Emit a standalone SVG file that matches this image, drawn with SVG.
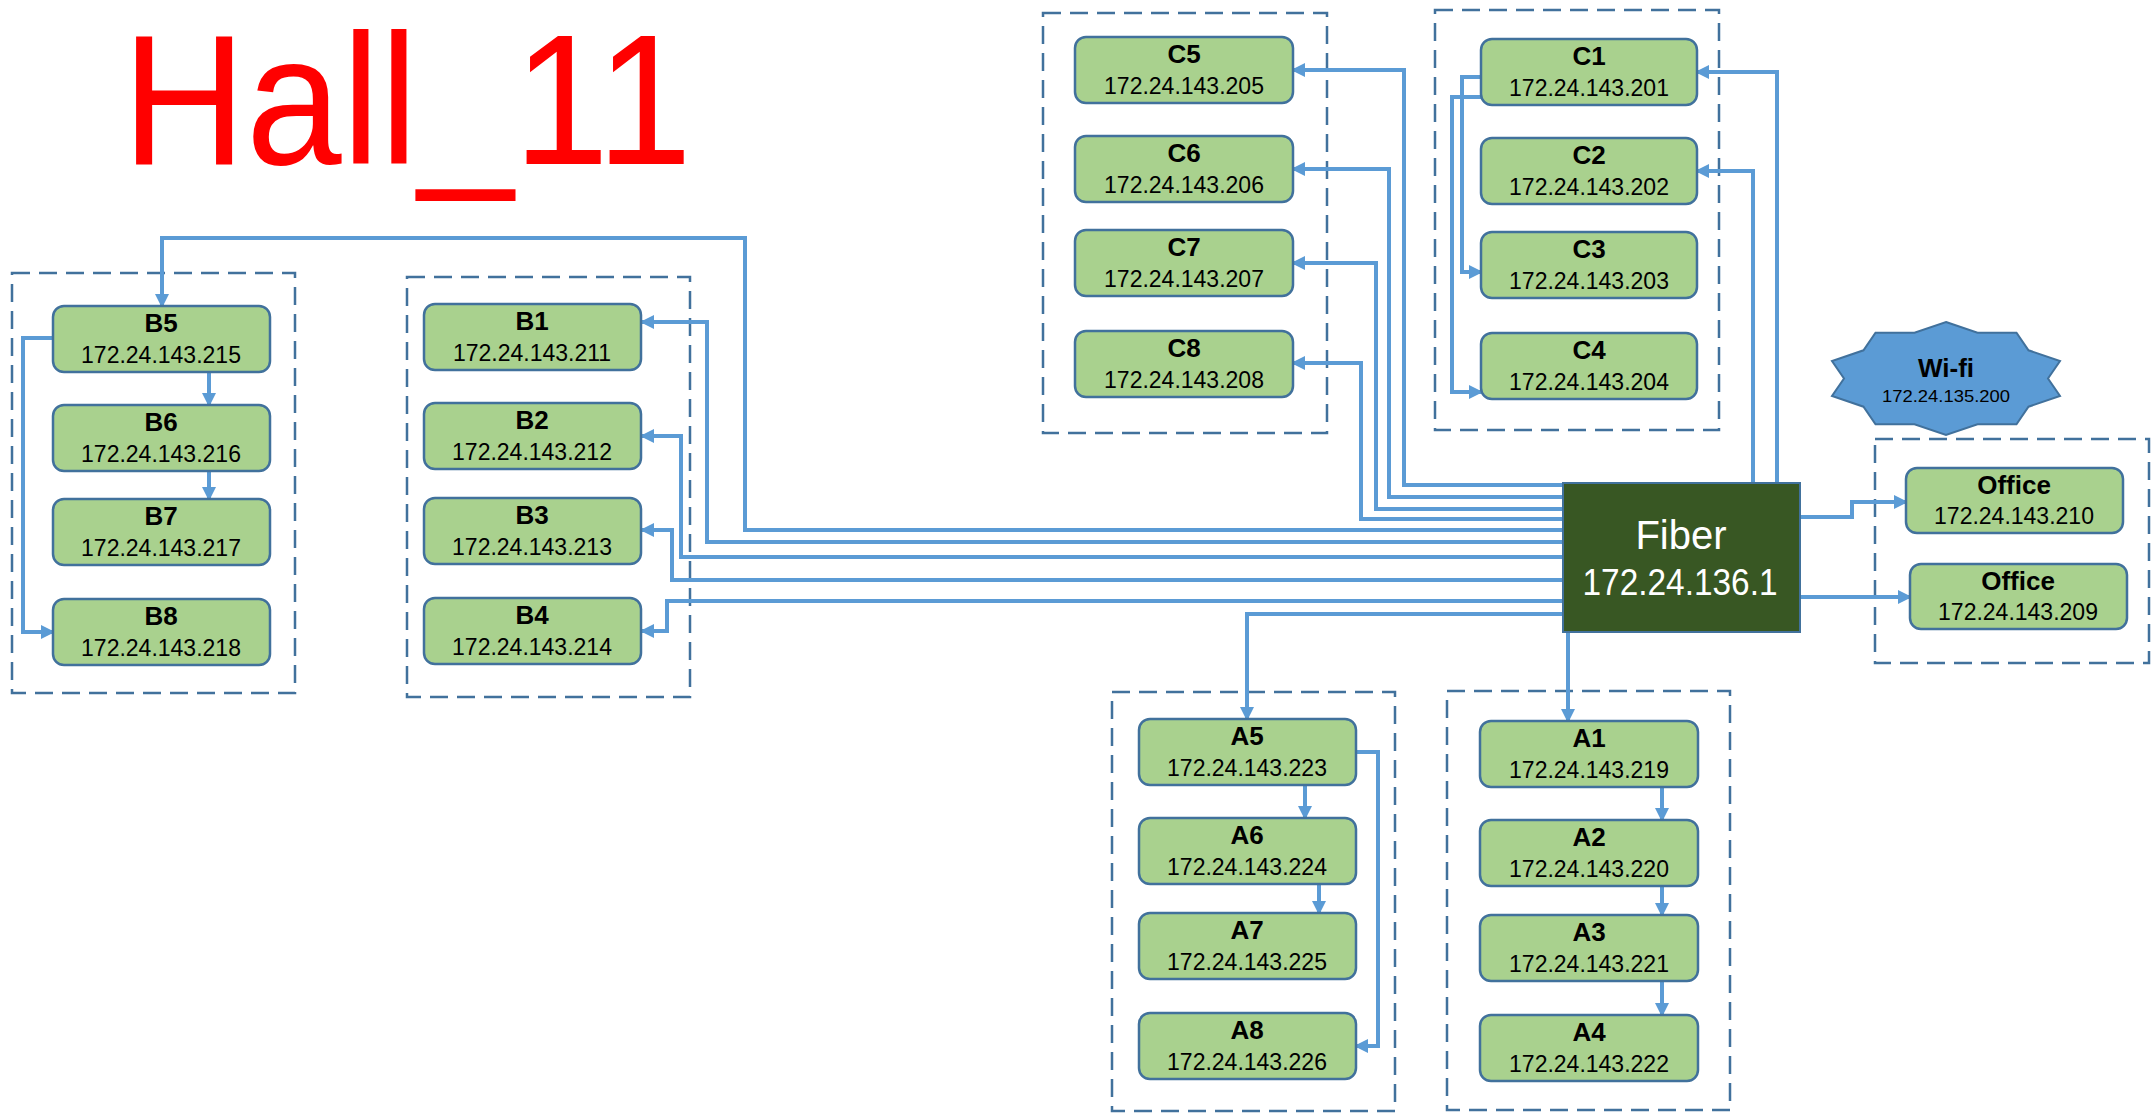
<svg xmlns="http://www.w3.org/2000/svg" width="2152" height="1113" viewBox="0 0 2152 1113">
<defs>
<style>
.node{fill:#A9D18E;stroke:#41719C;stroke-width:2.5}
.grp{fill:none;stroke:#41719C;stroke-width:2.5;stroke-dasharray:18 9}
.conn{fill:none;stroke:#5B9BD5;stroke-width:4;marker-end:url(#arr)}
.lbl{font-family:'Liberation Sans',Arial,sans-serif;font-weight:bold;font-size:26px;text-anchor:middle;fill:#000}
.ip{font-family:'Liberation Sans',Arial,sans-serif;font-size:23px;text-anchor:middle;fill:#000}
</style>
<marker id="arr" markerUnits="userSpaceOnUse" markerWidth="14" markerHeight="14" refX="12" refY="7" orient="auto"><path d="M0,0 L14,7 L0,14 z" fill="#5B9BD5"/></marker>
</defs>
<rect width="2152" height="1113" fill="#fff"/>
<text x="122" y="164" font-family="'Liberation Sans',Arial,sans-serif" font-size="186" fill="#FF0000" textLength="570" lengthAdjust="spacingAndGlyphs">Hall_11</text>

<g id="groups">
<rect class="grp" x="12" y="273" width="283" height="420"/>
<rect class="grp" x="407" y="277" width="283" height="420"/>
<rect class="grp" x="1043" y="13" width="284" height="420"/>
<rect class="grp" x="1435" y="10" width="284" height="420"/>
<rect class="grp" x="1112" y="692" width="283" height="419"/>
<rect class="grp" x="1447" y="691" width="283" height="419"/>
<rect class="grp" x="1875" y="439" width="274" height="224"/>
</g>

<g id="connectors">
<path class="conn" d="M1563,530 H745 V238 H162 V306"/>
<path class="conn" d="M1563,542 H707 V322 H642"/>
<path class="conn" d="M1563,557 H681 V436 H642"/>
<path class="conn" d="M1563,580 H672 V530 H642"/>
<path class="conn" d="M1563,601 H667 V631 H642"/>
<path class="conn" d="M1563,614 H1247 V719"/>
<path class="conn" d="M1568,632 V721"/>
<path class="conn" d="M1563,485 H1404 V70 H1293"/>
<path class="conn" d="M1563,497 H1389 V169 H1293"/>
<path class="conn" d="M1563,509 H1376 V263 H1293"/>
<path class="conn" d="M1563,519 H1361 V363 H1293"/>
<path class="conn" d="M1777,483 V72 H1697"/>
<path class="conn" d="M1753,483 V171 H1697"/>
<path class="conn" d="M1800,517 H1852 V502 H1906"/>
<path class="conn" d="M1800,597 H1910"/>
<path class="conn" d="M209,372 V405"/>
<path class="conn" d="M209,471 V499"/>
<path class="conn" d="M53,338 H23 V632 H53"/>
<path class="conn" d="M1481,77 H1462 V272 H1481"/>
<path class="conn" d="M1481,97 H1452 V392 H1481"/>
<path class="conn" d="M1305,785 V818"/>
<path class="conn" d="M1319,884 V913"/>
<path class="conn" d="M1356,752 H1378 V1046 H1356"/>
<path class="conn" d="M1662,787 V820"/>
<path class="conn" d="M1662,886 V915"/>
<path class="conn" d="M1662,981 V1015"/>
</g>

<g id="fiber">
<rect x="1563" y="483" width="237" height="149" fill="#385723" stroke="#41719C" stroke-width="2"/>
<text x="1681" y="549" font-family="'Liberation Sans',Arial,sans-serif" font-size="40" fill="#fff" text-anchor="middle">Fiber</text>
<text x="1680" y="595" font-family="'Liberation Sans',Arial,sans-serif" font-size="37" fill="#fff" text-anchor="middle" textLength="195" lengthAdjust="spacingAndGlyphs">172.24.136.1</text>
</g>

<g id="wifi">
<polygon points="1946,322 1977.5,332.8 2016.5,332.8 2028.5,350.3 2060,361 2048,378.5 2060,396 2028.5,406.7 2016.5,424.2 1977.5,424.2 1946,435 1914.5,424.2 1875.5,424.2 1863.5,406.7 1832,396 1844,378.5 1832,361 1863.5,350.3 1875.5,332.8 1914.5,332.8" fill="#5B9BD5" stroke="#41719C" stroke-width="2"/>
<text class="lbl" x="1946" y="377">Wi-fi</text>
<text x="1946" y="402" font-family="'Liberation Sans',Arial,sans-serif" font-size="17" text-anchor="middle" textLength="128" lengthAdjust="spacingAndGlyphs">172.24.135.200</text>
</g>

<g id="B5"><rect class="node" x="53" y="306" width="217" height="66" rx="11"/><text class="lbl" x="161" y="332">B5</text><text class="ip" x="161" y="363">172.24.143.215</text></g>
<g id="B6"><rect class="node" x="53" y="405" width="217" height="66" rx="11"/><text class="lbl" x="161" y="431">B6</text><text class="ip" x="161" y="462">172.24.143.216</text></g>
<g id="B7"><rect class="node" x="53" y="499" width="217" height="66" rx="11"/><text class="lbl" x="161" y="525">B7</text><text class="ip" x="161" y="556">172.24.143.217</text></g>
<g id="B8"><rect class="node" x="53" y="599" width="217" height="66" rx="11"/><text class="lbl" x="161" y="625">B8</text><text class="ip" x="161" y="656">172.24.143.218</text></g>

<g id="B1"><rect class="node" x="424" y="304" width="217" height="66" rx="11"/><text class="lbl" x="532" y="330">B1</text><text class="ip" x="532" y="361">172.24.143.211</text></g>
<g id="B2"><rect class="node" x="424" y="403" width="217" height="66" rx="11"/><text class="lbl" x="532" y="429">B2</text><text class="ip" x="532" y="460">172.24.143.212</text></g>
<g id="B3"><rect class="node" x="424" y="498" width="217" height="66" rx="11"/><text class="lbl" x="532" y="524">B3</text><text class="ip" x="532" y="555">172.24.143.213</text></g>
<g id="B4"><rect class="node" x="424" y="598" width="217" height="66" rx="11"/><text class="lbl" x="532" y="624">B4</text><text class="ip" x="532" y="655">172.24.143.214</text></g>

<g id="C5"><rect class="node" x="1075" y="37" width="218" height="66" rx="11"/><text class="lbl" x="1184" y="63">C5</text><text class="ip" x="1184" y="94">172.24.143.205</text></g>
<g id="C6"><rect class="node" x="1075" y="136" width="218" height="66" rx="11"/><text class="lbl" x="1184" y="162">C6</text><text class="ip" x="1184" y="193">172.24.143.206</text></g>
<g id="C7"><rect class="node" x="1075" y="230" width="218" height="66" rx="11"/><text class="lbl" x="1184" y="256">C7</text><text class="ip" x="1184" y="287">172.24.143.207</text></g>
<g id="C8"><rect class="node" x="1075" y="331" width="218" height="66" rx="11"/><text class="lbl" x="1184" y="357">C8</text><text class="ip" x="1184" y="388">172.24.143.208</text></g>

<g id="C1"><rect class="node" x="1481" y="39" width="216" height="66" rx="11"/><text class="lbl" x="1589" y="65">C1</text><text class="ip" x="1589" y="96">172.24.143.201</text></g>
<g id="C2"><rect class="node" x="1481" y="138" width="216" height="66" rx="11"/><text class="lbl" x="1589" y="164">C2</text><text class="ip" x="1589" y="195">172.24.143.202</text></g>
<g id="C3"><rect class="node" x="1481" y="232" width="216" height="66" rx="11"/><text class="lbl" x="1589" y="258">C3</text><text class="ip" x="1589" y="289">172.24.143.203</text></g>
<g id="C4"><rect class="node" x="1481" y="333" width="216" height="66" rx="11"/><text class="lbl" x="1589" y="359">C4</text><text class="ip" x="1589" y="390">172.24.143.204</text></g>

<g id="A5"><rect class="node" x="1139" y="719" width="217" height="66" rx="11"/><text class="lbl" x="1247" y="745">A5</text><text class="ip" x="1247" y="776">172.24.143.223</text></g>
<g id="A6"><rect class="node" x="1139" y="818" width="217" height="66" rx="11"/><text class="lbl" x="1247" y="844">A6</text><text class="ip" x="1247" y="875">172.24.143.224</text></g>
<g id="A7"><rect class="node" x="1139" y="913" width="217" height="66" rx="11"/><text class="lbl" x="1247" y="939">A7</text><text class="ip" x="1247" y="970">172.24.143.225</text></g>
<g id="A8"><rect class="node" x="1139" y="1013" width="217" height="66" rx="11"/><text class="lbl" x="1247" y="1039">A8</text><text class="ip" x="1247" y="1070">172.24.143.226</text></g>

<g id="A1"><rect class="node" x="1480" y="721" width="218" height="66" rx="11"/><text class="lbl" x="1589" y="747">A1</text><text class="ip" x="1589" y="778">172.24.143.219</text></g>
<g id="A2"><rect class="node" x="1480" y="820" width="218" height="66" rx="11"/><text class="lbl" x="1589" y="846">A2</text><text class="ip" x="1589" y="877">172.24.143.220</text></g>
<g id="A3"><rect class="node" x="1480" y="915" width="218" height="66" rx="11"/><text class="lbl" x="1589" y="941">A3</text><text class="ip" x="1589" y="972">172.24.143.221</text></g>
<g id="A4"><rect class="node" x="1480" y="1015" width="218" height="66" rx="11"/><text class="lbl" x="1589" y="1041">A4</text><text class="ip" x="1589" y="1072">172.24.143.222</text></g>

<g id="Office210"><rect class="node" x="1906" y="468" width="217" height="65" rx="11"/><text class="lbl" x="2014" y="494">Office</text><text class="ip" x="2014" y="524">172.24.143.210</text></g>
<g id="Office209"><rect class="node" x="1910" y="564" width="217" height="65" rx="11"/><text class="lbl" x="2018" y="590">Office</text><text class="ip" x="2018" y="620">172.24.143.209</text></g>
</svg>
